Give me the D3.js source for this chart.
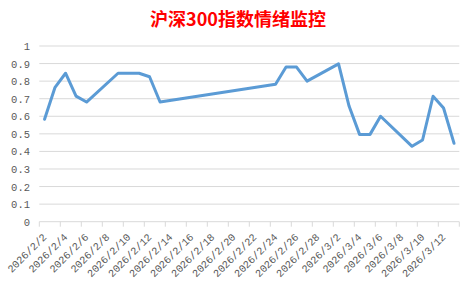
<!DOCTYPE html>
<html>
<head>
<meta charset="utf-8">
<script src="https://cdn.jsdelivr.net/npm/d3@7"></script>
<style>
  body { margin: 0; background: #fff; }
  svg { display: block; }
</style>
</head>
<body>
<svg id="grafico" width="476" height="284"></svg>
<script>
const titulo = "沪深300指数情绪监控";
const fechas = [
  "2026/2/2","2026/2/3","2026/2/4","2026/2/5","2026/2/6",
  "2026/2/9","2026/2/10","2026/2/11","2026/2/12","2026/2/13",
  "2026/2/24","2026/2/25","2026/2/26","2026/2/27",
  "2026/3/2","2026/3/3","2026/3/4","2026/3/5","2026/3/6",
  "2026/3/9","2026/3/10","2026/3/11","2026/3/12","2026/3/13"
];
const valores = [
  0.583, 0.765, 0.845, 0.715, 0.681,
  0.845, 0.845, 0.845, 0.825, 0.681,
  0.782, 0.88, 0.88, 0.80,
  0.898, 0.658, 0.497, 0.497, 0.60,
  0.429, 0.465, 0.714, 0.647, 0.446
];
const rangoFechas = ["2026/2/2", "2026/3/14"];
const yTicks = [0, 0.1, 0.2, 0.3, 0.4, 0.5, 0.6, 0.7, 0.8, 0.9, 1];

const parse = d3.timeParse("%Y/%m/%d");
const fmt = d => `${d.getFullYear()}/${d.getMonth() + 1}/${d.getDate()}`;

const svg = d3.select("#grafico");
const izq = 39.3, der = 459.3, arriba = 46, abajo = 221.7;

const x = d3.scaleTime()
  .domain(rangoFechas.map(parse))
  .range([izq, der]);
const y = d3.scaleLinear().domain([0, 1]).range([abajo, arriba]);

// titulo
svg.append("text")
  .attr("x", 238)
  .attr("y", 26)
  .attr("text-anchor", "middle")
  .style("font-family", "'Noto Sans CJK SC'")
  .style("font-weight", "bold")
  .style("font-size", "18px")
  .attr("fill", "#FF0000")
  .text(titulo);

// lineas de rejilla
svg.append("g")
  .selectAll("line")
  .data(yTicks)
  .join("line")
  .attr("x1", izq)
  .attr("x2", der)
  .attr("y1", d => y(d))
  .attr("y2", d => y(d))
  .attr("stroke", "#d9d9d9")
  .attr("stroke-width", 1);

// eje y
svg.append("g")
  .selectAll("text")
  .data(yTicks)
  .join("text")
  .attr("x", 30)
  .attr("y", d => y(d) + 4)
  .attr("text-anchor", "end")
  .style("font-family", "'Liberation Mono', monospace")
  .style("font-size", "10.5px")
  .attr("fill", "#595959")
  .text(d => d === 0 || d === 1 ? String(d) : d.toFixed(1));

// eje x
const dias = d3.timeDay.range(x.domain()[0], d3.timeDay.offset(x.domain()[1], 1), 2);
const gx = svg.append("g");
gx.selectAll("line")
  .data(dias)
  .join("line")
  .attr("x1", d => x(d))
  .attr("x2", d => x(d))
  .attr("y1", abajo)
  .attr("y2", abajo + 5)
  .attr("stroke", "#d9d9d9");

gx.selectAll("text")
  .data(dias.slice(0, -1))
  .join("text")
  .attr("transform", d => `translate(${x(d) + 8},${abajo + 16}) rotate(-45)`)
  .attr("text-anchor", "end")
  .style("font-family", "'Liberation Mono', monospace")
  .style("font-size", "10.5px")
  .attr("fill", "#595959")
  .text(fmt);

// serie
const puntos = fechas.map((f, i) => ({ fecha: d3.timeHour.offset(parse(f), 12), valor: valores[i] }));
const linea = d3.line()
  .x(d => x(d.fecha))
  .y(d => y(d.valor));

svg.append("path")
  .datum(puntos)
  .attr("d", linea)
  .attr("fill", "none")
  .attr("stroke", "#5B9BD5")
  .attr("stroke-width", 3)
  .attr("stroke-linejoin", "round")
  .attr("stroke-linecap", "round");
</script>
</body>
</html>
